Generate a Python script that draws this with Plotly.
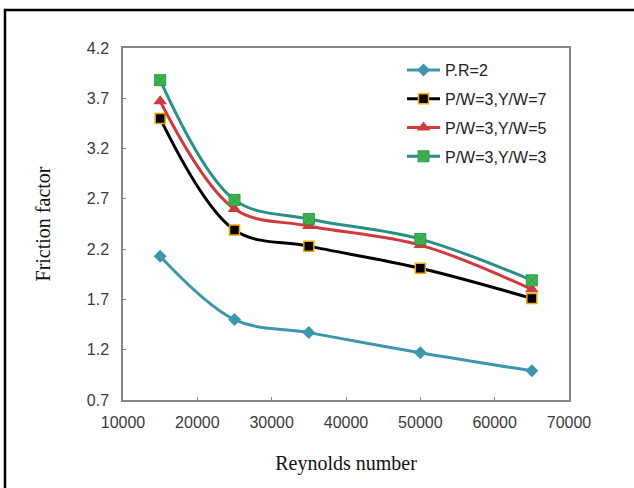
import plotly.graph_objects as go

# Reynolds numbers tested
reynolds = [15000, 25000, 35000, 50000, 65000]

# Friction factor for each configuration
f_pr2 = [2.13, 1.50, 1.37, 1.17, 0.99]
f_yw7 = [3.50, 2.39, 2.23, 2.01, 1.71]
f_yw5 = [3.67, 2.60, 2.43, 2.24, 1.80]
f_yw3 = [3.88, 2.69, 2.50, 2.30, 1.89]

series_names = ["P.R=2", "P/W=3,Y/W=7", "P/W=3,Y/W=5", "P/W=3,Y/W=3"]

x_ticks = [10000, 20000, 30000, 40000, 50000, 60000, 70000]
y_ticks = [0.7, 1.2, 1.7, 2.2, 2.7, 3.2, 3.7, 4.2]

fig = go.Figure()

styles = [
    (f_pr2, "#3D96AE", dict(symbol="diamond", size=10, color="#3D96AE",
                             line=dict(color="#3D96AE", width=0))),
    (f_yw7, "#000000", dict(symbol="square", size=10, color="#000000",
                             line=dict(color="#F2A900", width=1.5))),
    (f_yw5, "#D13A3C", dict(symbol="triangle-up", size=12, color="#D13A3C",
                             line=dict(color="#D13A3C", width=0))),
    (f_yw3, "#2A8F85", dict(symbol="square-x", size=11, color="#3DB54A",
                             line=dict(color="#2E9A55", width=1))),
]

for i, ((vals, lc, mk), name) in enumerate(zip(styles, series_names)):
    fig.add_trace(go.Scatter(
        x=reynolds, y=vals, name=name, legendgroup=f"g{i}",
        mode="lines+markers",
        line=dict(color=lc, width=3, shape="spline", smoothing=1.0),
        marker=mk,
    ))

L, R, T, B = 123, 569, 48, 400
W, H = 634, 488
pw, ph = R - L, B - T

# outer frame around the whole figure
fig.add_shape(type="rect", xref="paper", yref="paper",
              x0=(5 - L) / pw, x1=(W + 20 - L) / pw,
              y0=-(H + 20 - B) / ph, y1=1 + (T - 10) / ph,
              line=dict(color="#000000", width=2.5), layer="below")

axis_common = dict(
    showgrid=False, zeroline=False, showline=True, mirror=True,
    linecolor="#868686", linewidth=1.5,
    ticks="inside", ticklen=3, tickcolor="#868686",
    tickfont=dict(family="Arial, Liberation Sans, sans-serif", size=16, color="#3A3A3A"),
)

title_font = dict(family="Liberation Serif, Times New Roman, serif", size=20, color="#111111")

fig.update_xaxes(range=[10000, 70000], tickvals=x_ticks,
                 ticktext=[str(v) for v in x_ticks],
                 ticklabelstandoff=7,
                 title=dict(text="Reynolds number", standoff=26, font=title_font),
                 **axis_common)
fig.update_yaxes(range=[0.7, 4.2], tickvals=y_ticks,
                 ticktext=[f"{v:.1f}" for v in y_ticks],
                 ticklabelstandoff=9,
                 title=dict(text="Friction factor", standoff=31, font=title_font),
                 **axis_common)

fig.update_layout(
    width=W, height=H,
    margin=dict(l=L, r=W - R, t=T, b=H - B),
    paper_bgcolor="white", plot_bgcolor="white",
    legend=dict(x=(402 - L) / pw, y=1 - (53 - T) / ph, xanchor="left", yanchor="top",
                bgcolor="rgba(0,0,0,0)", traceorder="grouped",
                font=dict(family="Arial, Liberation Sans, sans-serif", size=16, color="#222222"),
                tracegroupgap=5, itemwidth=33),
    showlegend=True,
)

fig.write_html("out.html")
